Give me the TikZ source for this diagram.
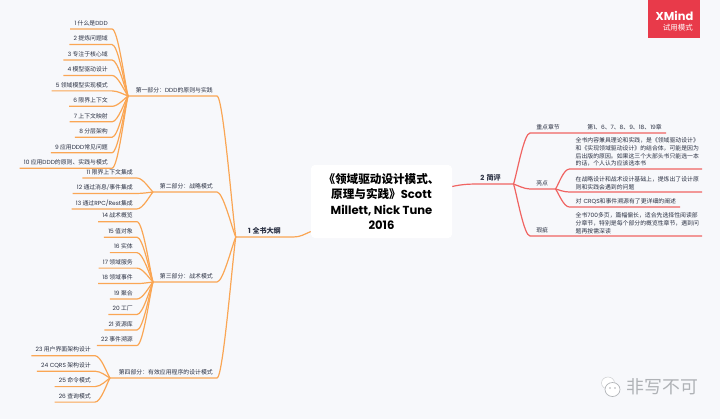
\documentclass[tikz,border=0pt]{standalone}
\usepackage{fontspec}
\usepackage{xcolor}
\setmainfont{Noto Sans CJK SC}
\newfontfamily\popfont{Poppins}
\newcommand{\lat}[1]{{\popfont #1}}
\usetikzlibrary{arrows.meta,positioning,calc}
\definecolor{paper}{RGB}{247,248,251}
\definecolor{inkdark}{RGB}{42,48,66}
\definecolor{branchorange}{RGB}{250,166,84}
\definecolor{branchred}{RGB}{240,100,98}
\definecolor{badgered}{RGB}{232,58,74}
\definecolor{markgray}{RGB}{175,178,182}
\tikzset{
  leaf/.style={rectangle, inner xsep=3pt, inner ysep=0pt, text=inkdark,
               font=\fontsize{4.4}{5.9}\selectfont,
               text height=8.6pt, text depth=2.6pt},
  nextleaf/.style={below=0pt of #1.south east, anchor=north east},
  partlabel/.style={leaf, anchor=south east},
  mainlabel/.style={rectangle, inner sep=0pt, text=inkdark, anchor=south,
                    font=\fontsize{5.3}{6.5}\selectfont\bfseries,
                    text height=8pt, text depth=2.8pt},
  notelabel/.style={rectangle, inner xsep=4.5pt, inner ysep=1.6pt, text=inkdark,
                    anchor=south east, align=left, text width=90pt,
                    font=\fontsize{4.4}{5.9}\selectfont},
  sidelabel/.style={leaf, anchor=south west, align=left, inner xsep=4.5pt},
  titlebox/.style={rectangle, rounded corners=1mm, fill=white, align=center,
                   font=\fontsize{8.7}{11.5}\selectfont\bfseries, text=black,
                   minimum width=105.75pt, minimum height=54.75pt, inner sep=0pt},
  orangeline/.style={draw=branchorange, line width=0.9pt},
  redline/.style={draw=branchred, line width=0.9pt},
  fanin/.style={to path={.. controls ($(\tikztostart)+(6,0)$) and ($(\tikztotarget)!.2!(\tikztostart)$) .. (\tikztotarget)}},
  fanout/.style={to path={.. controls ($(\tikztostart)!.2!(\tikztotarget)$) and ($(\tikztotarget)+(-6,0)$) .. (\tikztotarget)}},
}

\begin{document}
\begin{tikzpicture}[x=0.75pt,y=-0.75pt]
  \useasboundingbox (0,0) rectangle (720,419);
  \fill[paper] (0,0) rectangle (720,419);

  % ---- centre ----
  \node[titlebox] (title) at (381.5,201.5) {《领域驱动设计模式、\\原理与实践》{\popfont Scott}\\{\popfont Millett, Nick Tune}\\{\popfont 2016}};
  \node[mainlabel, minimum width=42.75pt] (outline) at (264.5,237) {\lat{1} 全书大纲};
  \draw[orangeline] (outline.south west) -- (outline.south east) to[out=0,in=203] (title.203);

  % ---- part one ----
  \coordinate (hubone) at (128,96);
  \node[partlabel] (partone) at (217,96) {第一部分：\lat{DDD}的原则与实践};
  \node[leaf, anchor=south east] (ch1) at (112,29) {\lat{1} 什么是\lat{DDD}};
  \node[leaf, nextleaf=ch1] (ch2) {\lat{2} 提炼问题域};
  \node[leaf, nextleaf=ch2] (ch3) {\lat{3} 专注于核心域};
  \node[leaf, nextleaf=ch3] (ch4) {\lat{4} 模型驱动设计};
  \node[leaf, nextleaf=ch4] (ch5) {\lat{5} 领域模型实现模式};
  \node[leaf, nextleaf=ch5] (ch6) {\lat{6} 限界上下文};
  \node[leaf, nextleaf=ch6] (ch7) {\lat{7} 上下文映射};
  \node[leaf, nextleaf=ch7] (ch8) {\lat{8} 分层架构};
  \node[leaf, nextleaf=ch8] (ch9) {\lat{9} 应用\lat{DDD}常见问题};
  \node[leaf, nextleaf=ch9] (ch10) {\lat{10} 应用\lat{DDD}的原则、实践与模式};
  \foreach \n in {1,...,10}
    \draw[orangeline] (ch\n.south west) -- (ch\n.south east) to[fanin] (hubone);
  \draw[orangeline] (hubone) -- (partone.south east) to[fanin] (outline.south west);

  % ---- part two ----
  \coordinate (hubtwo) at (153,192);
  \node[partlabel] (parttwo) at (217,192) {第二部分：战略模式};
  \node[leaf, anchor=south east] (ch11) at (137,178) {\lat{11} 限界上下文集成};
  \node[leaf, nextleaf=ch11] (ch12) {\lat{12} 通过消息/事件集成};
  \node[leaf, nextleaf=ch12] (ch13) {\lat{13} 通过\lat{RPC/Rest}集成};
  \foreach \n in {11,12,13}
    \draw[orangeline] (ch\n.south west) -- (ch\n.south east) to[fanin] (hubtwo);
  \draw[orangeline] (hubtwo) -- (parttwo.south east) to[fanin] (outline.south west);

  % ---- part three ----
  \coordinate (hubthree) at (153,282);
  \node[partlabel] (partthree) at (217,282) {第三部分：战术模式};
  \node[leaf, anchor=south east] (ch14) at (137,221.7) {\lat{14} 战术概览};
  \node[leaf, nextleaf=ch14] (ch15) {\lat{15} 值对象};
  \node[leaf, nextleaf=ch15] (ch16) {\lat{16} 实体};
  \node[leaf, nextleaf=ch16] (ch17) {\lat{17} 领域服务};
  \node[leaf, nextleaf=ch17] (ch18) {\lat{18} 领域事件};
  \node[leaf, nextleaf=ch18] (ch19) {\lat{19} 聚合};
  \node[leaf, nextleaf=ch19] (ch20) {\lat{20} 工厂};
  \node[leaf, nextleaf=ch20] (ch21) {\lat{21} 资源库};
  \node[leaf, nextleaf=ch21] (ch22) {\lat{22} 事件溯源};
  \foreach \n in {14,...,22}
    \draw[orangeline] (ch\n.south west) -- (ch\n.south east) to[fanin] (hubthree);
  \draw[orangeline] (hubthree) -- (partthree.south east) to[fanin] (outline.south west);

  % ---- part four ----
  \coordinate (hubfour) at (110,378);
  \node[partlabel] (partfour) at (217,378) {第四部分：有效应用程序的设计模式};
  \node[leaf, anchor=south east] (ch23) at (95,355.7) {\lat{23} 用户界面架构设计};
  \node[leaf, nextleaf=ch23] (ch24) {\lat{24 CQRS} 架构设计};
  \node[leaf, nextleaf=ch24] (ch25) {\lat{25} 命令模式};
  \node[leaf, nextleaf=ch25] (ch26) {\lat{26} 查询模式};
  \foreach \n in {23,...,26}
    \draw[orangeline] (ch\n.south west) -- (ch\n.south east) to[fanin] (hubfour);
  \draw[orangeline] (hubfour) -- (partfour.south east) to[fanin] (outline.south west);

  % ---- review ----
  \node[mainlabel, anchor=south west, align=left, text width=24.75pt] (review) at (480,184) {\lat{2} 简评};
  \draw[redline] (title.12) to[out=12,in=180] (review.south west) -- (review.south east);

  \node[sidelabel, text width=27pt] (keypart) at (530,133) {重点章节};
  \node[leaf, anchor=south east] (keylist) at (666,133) {第\lat{1}、\lat{6}、\lat{7}、\lat{8}、\lat{9}、\lat{18}、\lat{19}章};
  \draw[redline] (review.south east) to[fanout] (keypart.south west) -- (keylist.south east);

  \node[sidelabel, text width=9.75pt] (good) at (530,189) {亮点};
  \draw[redline] (review.south east) to[fanout] (good.south west) -- (good.south east);
  \node[notelabel] (goodone) at (702,169) {全书内容兼具理论和实践，是《领域驱动设计》\\和《实现领域驱动设计》的结合体，可能是因为\\后出版的原因。如果这三个大部头书只能选一本\\的话，个人认为应该选本书};
  \node[notelabel] (goodtwo) at (702,192) {在战略设计和战术设计基础上，提炼出了设计原\\则和实践会遇到的问题};
  \node[notelabel, text width=73.5pt] (goodthree) at (680,207) {\mbox{对 \lat{CRQS}和事件溯源有了更详细的阐述}};
  \foreach \n in {one,two,three}
    \draw[redline] (good.south east) to[fanout] (good\n.south west) -- (good\n.south east);

  \node[sidelabel, text width=27pt] (bad) at (530,236) {瑕疵};
  \node[notelabel] (badone) at (702,236) {全书\lat{700}多页，篇幅偏长，适合先选择性阅读部\\分章节，特别是每个部分的概览性章节，遇到问\\题再按需深读};
  \draw[redline] (review.south east) to[fanout] (bad.south west) -- (badone.south east);

  % ---- badge and mark ----
  \fill[badgered] (648,0) rectangle (700,38);
  \node[text=white, font=\fontsize{8.6}{10}\selectfont\bfseries\popfont] (badgename) at (674.5,16) {XMind};
  \node[text=white, font=\fontsize{5.6}{7}\selectfont, inner sep=0pt, anchor=east] (badgemode) at (693,28) {试用模式};
  \filldraw[draw=markgray!60, fill=white, line width=0.4pt] (608,383) ellipse (6.5 and 6);
  \filldraw[draw=markgray, fill=white, line width=0.5pt] (612.5,389.5) ellipse (7.5 and 7);
  \fill[markgray] (610,388) circle (0.8) (615,388) circle (0.8);
  \node[text=markgray, font=\fontsize{13.4}{15}\selectfont, inner sep=0pt] (markname) at (662.5,387) {非写不可};
\end{tikzpicture}
\end{document}
